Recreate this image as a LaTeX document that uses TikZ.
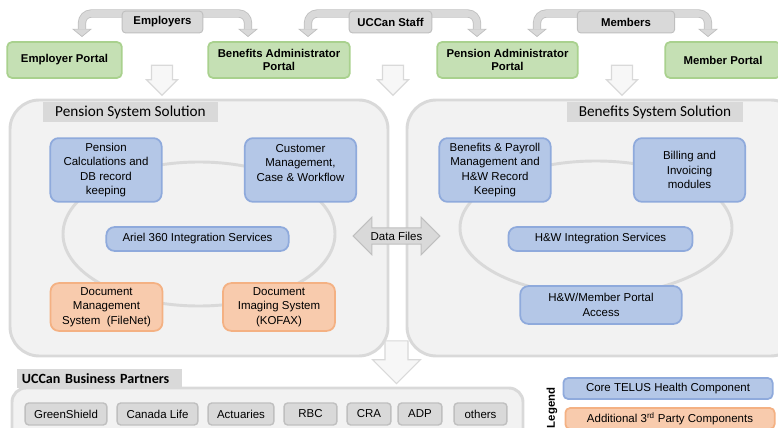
\documentclass[tikz,border=0pt]{standalone}
\usepackage{fontspec}
\setmainfont{Liberation Sans}
\newfontfamily\hdfont{Carlito}
\usetikzlibrary{arrows.meta,shapes.arrows,backgrounds}

\definecolor{portalfill}{HTML}{C5E0B4}
\definecolor{portalline}{HTML}{A9D18E}
\definecolor{corefill}{HTML}{B4C7E7}
\definecolor{coreline}{HTML}{8FAADC}
\definecolor{partyfill}{HTML}{F8CBAD}
\definecolor{partyline}{HTML}{F4B183}
\definecolor{panelfill}{HTML}{F2F2F2}
\definecolor{panelline}{HTML}{D9D9D9}
\definecolor{bandfill}{HTML}{D9D9D9}
\definecolor{bandedge}{HTML}{BFBFBF}
\definecolor{hollowfill}{HTML}{F7F7F7}

\tikzset{
  txt/.style={font=\fontsize{9.8}{12.2}\selectfont, align=center},
  portal/.style={draw=portalline, fill=portalfill, line width=1.5pt, rounded corners=4pt,
    minimum height=30.6pt, align=center, font=\fontsize{9.7}{11.8}\selectfont\bfseries},
  group/.style={draw=bandedge, fill=bandfill, line width=0.8pt, rounded corners=3pt,
    minimum height=18.7pt, font=\fontsize{9.7}{11.8}\selectfont\bfseries},
  band/.style={draw=bandedge, line width=7pt, rounded corners=8pt,
    {Triangle[width=17pt,length=7pt,line width=0.6pt,fill=bandfill]}-{Triangle[width=17pt,length=7pt,line width=0.6pt,fill=bandfill]},
    postaction={draw=bandfill, line width=5.6pt, -, shorten <=6.6pt, shorten >=6.6pt}},
  downarr/.style={single arrow, rotate=-90, draw=panelline, fill=hollowfill, line width=1pt,
    inner xsep=0pt, inner ysep=8.5pt, single arrow head extend=4.25pt, minimum height=25.5pt},
  panel/.style={draw=panelline, fill=panelfill, line width=2.5pt, rounded corners=25pt},
  tab/.style={fill=bandfill, minimum height=17pt, inner sep=1pt, font=\hdfont\fontsize{13}{14}\selectfont},
  ring/.style={draw=panelline, line width=2.5pt},
  core/.style={txt, draw=coreline, fill=corefill, line width=1.5pt, rounded corners=7pt},
  party/.style={txt, draw=partyline, fill=partyfill, line width=1.5pt, rounded corners=7pt},
  partner/.style={txt, draw=bandedge, fill=bandfill, line width=1.2pt, rounded corners=3pt,
    minimum height=18.7pt, inner sep=1pt}
}

\begin{document}
\begin{tikzpicture}[x=0.03cm, y=-0.03cm]
\useasboundingbox (0,0) rectangle (778,428);

% portals
\node[portal, minimum width=97.8pt] (emp) at (64.5,60) {Employer Portal};
\node[portal, minimum width=120.8pt] (benAdm) at (279,60) {Benefits Administrator\\Portal};
\node[portal, minimum width=120pt] (penAdm) at (507.5,60) {Pension Administrator\\Portal};
\node[portal, minimum width=98.6pt] (mem) at (723,60) {Member Portal};

% user groups
\node[group, minimum width=68.9pt] (employers) at (162.5,22) {Employers};
\node[group, minimum width=70.6pt] (staff) at (390.5,22) {UCCan Staff};
\node[group, minimum width=83pt] (members) at (626,22) {Members};

\coordinate (empTip) at (82,37);
\coordinate (benTip) at (248,37);
\coordinate (staffL) at (308,37);
\coordinate (staffR) at (477,37);
\coordinate (memL) at (537,37);
\coordinate (memR) at (708,37);

\begin{scope}[on background layer]
  \draw[band] (empTip) |- ([yshift=-2.5pt]employers.north) -| (benTip);
  \draw[band] (staffL) |- ([yshift=-2.5pt]staff.north) -| (staffR);
  \draw[band] (memL) |- ([yshift=-2.5pt]members.north) -| (memR);
\end{scope}

% flow into the solutions
\node[downarr] (d1) at (162,75) {};
\node[downarr] (d2) at (393,75) {};
\node[downarr] (d3) at (622,75) {};

% solutions
\draw[panel] (10,100) rectangle (388,356);
\draw[panel] (407,100) rectangle (800,356);
\node[tab, minimum width=148.8pt] (penTab) at (130.5,112) {Pension System Solution};
\node[tab, minimum width=149.7pt] (benTab) at (655,112) {Benefits System Solution};

\draw[ring] (199,234) ellipse [x radius=136, y radius=72];
\draw[ring] (596,228) ellipse [x radius=136, y radius=67];

\node[core, minimum width=95pt, minimum height=54.4pt] (calc) at (106,170)
  {Pension\\Calculations and\\DB record\\keeping};
\node[core, minimum width=95pt, minimum height=54.4pt] (crm) at (300.5,170)
  {Customer\\Management,\\Case \& Workflow\\~};
\node[core, minimum width=155.6pt, minimum height=20.4pt] (ariel) at (197.5,239)
  {Ariel 360 Integration Services};
\node[party, minimum width=95.5pt, minimum height=40.8pt] (filenet) at (106.5,307)
  {Document\\Management\\System\ \ (FileNet)};
\node[party, minimum width=95.5pt, minimum height=40.8pt] (kofax) at (279,307)
  {Document\\Imaging System\\(KOFAX)};

\node[core, minimum width=95pt, minimum height=54.4pt] (payroll) at (495,170)
  {Benefits \& Payroll\\Management and\\H\&W Record\\Keeping};
\node[core, minimum width=95pt, minimum height=54.4pt] (billing) at (689.5,170)
  {Billing and\\Invoicing\\modules};
\node[core, minimum width=157pt, minimum height=20.4pt] (hwint) at (600.5,239)
  {H\&W Integration Services};
\node[core, minimum width=137.8pt, minimum height=32.3pt] (hwportal) at (601,305)
  {H\&W/Member Portal\\Access};

\node[double arrow, draw=bandedge, fill=bandfill, line width=0.8pt, txt,
  inner xsep=0pt, inner ysep=3pt, double arrow head extend=9pt,
  minimum height=74pt, minimum width=32pt] (data) at (396.5,236) {Data Files};

\node[single arrow, rotate=-90, draw=panelline, fill=hollowfill, line width=1pt,
  inner xsep=0pt, inner ysep=9.35pt, single arrow head extend=10.6pt,
  minimum height=36.5pt] (d4) at (396.5,356.5) {};

% business partners
\draw[panel, rounded corners=12pt] (12,388) rectangle (523,460);
\node[tab, anchor=west, text width=133pt, inner xsep=4pt, minimum height=16pt,
  font=\hdfont\bfseries\fontsize{12}{13}\selectfont] (bpTab) at (17,378.5) {UCCan Business Partners};
\node[partner, minimum width=69.7pt] (gs) at (66,414) {GreenShield};
\node[partner, minimum width=68.9pt] (cl) at (157.5,414) {Canada Life};
\node[partner, minimum width=56.1pt] (act) at (241,414) {Actuaries};
\node[partner, minimum width=45.1pt] (rbc) at (310.5,414) {RBC};
\node[partner, minimum width=37.4pt] (cra) at (369,414) {CRA};
\node[partner, minimum width=37.4pt] (adp) at (420,414) {ADP};
\node[partner, minimum width=45.1pt] (oth) at (480.5,414) {others};

% legend
\node[rotate=90, font=\fontsize{9.7}{11.8}\selectfont\bfseries] (leg) at (552,408) {Legend};
\node[core, rounded corners=4pt, minimum width=178.6pt, minimum height=17.9pt, inner sep=1pt] (legCore) at (668,388.5)
  {Core TELUS Health Component};
\node[party, rounded corners=4pt, minimum width=178.6pt, minimum height=17.9pt, inner sep=1pt] (legParty) at (670,418.5)
  {Additional 3\textsuperscript{rd} Party Components};
\end{tikzpicture}
\end{document}
